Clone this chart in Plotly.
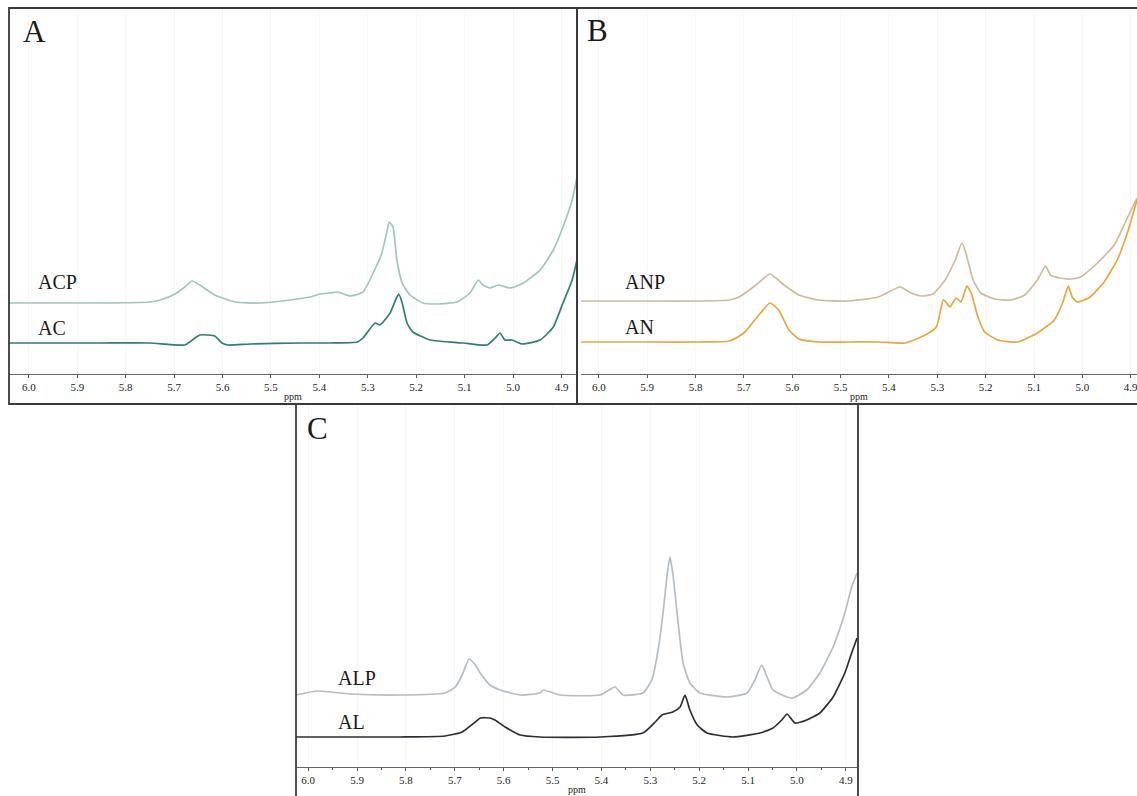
import plotly.graph_objects as go

# ---------------- data (chemical shift in ppm, intensity in a.u.) ----------------
ppm_ticks = [6.0, 5.9, 5.8, 5.7, 5.6, 5.5, 5.4, 5.3, 5.2, 5.1, 5.0, 4.9]
tick_labels = ["6.0", "5.9", "5.8", "5.7", "5.6", "5.5", "5.4", "5.3", "5.2", "5.1", "5.0", "4.9"]

# Panel A
ac_ppm = [6.041, 5.957, 5.853, 5.750, 5.678, 5.657, 5.647, 5.630, 5.616, 5.601, 5.589, 5.543,
          5.440, 5.378, 5.322, 5.310, 5.285, 5.275, 5.254, 5.240, 5.236, 5.229, 5.219, 5.207,
          5.171, 5.103, 5.054, 5.037, 5.027, 5.017, 5.002, 4.981, 4.944, 4.917, 4.897, 4.878, 4.868]
ac_int = [0, 0, 0, 0, -2, 5, 8, 8, 7, 0, -2, -1,
          0, 0, 1, 5, 20, 18, 30, 46, 49, 40, 20, 11,
          3, 0, -2, 5, 10, 3, 3, -1, 3, 16, 40, 63, 83]

acp_ppm = [6.041, 5.853, 5.750, 5.729, 5.698, 5.678, 5.663, 5.647, 5.616, 5.574, 5.523, 5.461,
           5.419, 5.399, 5.378, 5.362, 5.337, 5.310, 5.289, 5.271, 5.260, 5.256, 5.248, 5.240,
           5.229, 5.213, 5.186, 5.157, 5.116, 5.089, 5.072, 5.062, 5.048, 5.031, 5.006, 4.979,
           4.944, 4.917, 4.897, 4.878, 4.868]
acp_int = [0, 0, 1, 3, 9, 16, 22, 18, 8, 1, 0, 3,
           6, 9, 10, 11, 7, 11, 30, 50, 73, 81, 76, 43,
           20, 8, 0, -1, 1, 10, 23, 18, 15, 18, 15, 20,
           33, 53, 76, 103, 126]

# Panel B
an_ppm = [6.037, 5.895, 5.792, 5.730, 5.700, 5.669, 5.646, 5.628, 5.607, 5.586, 5.545, 5.484,
          5.422, 5.366, 5.325, 5.302, 5.288, 5.284, 5.274, 5.261, 5.251, 5.239, 5.230, 5.216,
          5.202, 5.175, 5.134, 5.093, 5.058, 5.041, 5.029, 5.021, 5.010, 4.984, 4.955, 4.928,
          4.907, 4.887]
an_int = [0, 0, 0, 1, 9, 27, 39, 32, 12, 3, 0, 0,
          0, -1, 7, 15, 42, 41, 35, 44, 40, 56, 49, 25,
          10, 2, 0, 9, 22, 39, 56, 45, 40, 45, 60, 82,
          109, 142]

anp_ppm = [6.037, 5.895, 5.792, 5.730, 5.710, 5.675, 5.646, 5.617, 5.586, 5.545, 5.484, 5.422,
           5.377, 5.354, 5.333, 5.309, 5.284, 5.263, 5.249, 5.241, 5.226, 5.210, 5.181, 5.148,
           5.119, 5.093, 5.076, 5.066, 5.047, 5.025, 5.004, 4.969, 4.934, 4.912, 4.887]
anp_int = [0, 0, 0, 1, 4, 16, 27, 16, 6, 1, 0, 4,
           14, 8, 5, 7, 21, 41, 58, 48, 21, 8, 2, 1,
           6, 21, 35, 26, 23, 22, 24, 38, 56, 78, 103]

# Panel C
al_ppm = [6.025, 5.812, 5.720, 5.685, 5.658, 5.648, 5.628, 5.618, 5.597, 5.566, 5.526, 5.403,
          5.315, 5.290, 5.276, 5.254, 5.239, 5.229, 5.219, 5.204, 5.184, 5.131, 5.076, 5.049,
          5.031, 5.020, 5.004, 4.980, 4.953, 4.926, 4.902, 4.888, 4.877]
al_int = [0, 0, 1, 5, 15, 19, 19, 17, 10, 2, 0, 0,
          4, 15, 22, 25, 30, 42, 27, 12, 4, 0, 4, 9,
          17, 23, 14, 17, 24, 40, 64, 84, 99]

alp_ppm = [6.025, 5.980, 5.914, 5.812, 5.720, 5.699, 5.685, 5.671, 5.658, 5.648, 5.628, 5.607,
           5.566, 5.526, 5.519, 5.485, 5.403, 5.372, 5.356, 5.315, 5.297, 5.284, 5.274, 5.266,
           5.260, 5.254, 5.243, 5.233, 5.219, 5.198, 5.143, 5.102, 5.086, 5.072, 5.061, 5.049,
           5.020, 5.008, 4.980, 4.953, 4.926, 4.902, 4.888, 4.877]
alp_int = [0, 4, 1, 0, 2, 8, 20, 36, 30, 22, 10, 5,
           0, 2, 5, 0, 0, 8, 0, 2, 15, 45, 82, 118,
           138, 122, 72, 32, 12, 2, -2, 2, 15, 30, 18, 5,
           -2, -3, 5, 22, 48, 82, 108, 122]

# ---------------- layout helpers ----------------
W, H = 1137, 796
def px(x):
    return x / W
def py(y):
    return 1 - y / H

# vertical stacking offsets of the spectra (layout, not data)
off = {"AC": 31, "ACP": 71, "AN": 32, "ANP": 73, "AL": 30, "ALP": 72}

FONT = "Liberation Serif"

fig = go.Figure()

def add(xs, ys, offset, color, xa, ya, width=1.7):
    fig.add_trace(go.Scatter(
        x=xs, y=[v + offset for v in ys], mode="lines",
        line=dict(color=color, width=width, shape="spline", smoothing=0.5),
        xaxis=xa, yaxis=ya, showlegend=False, hoverinfo="skip"))

add(acp_ppm, acp_int, off["ACP"], "#9dc6c0", "x", "y")
add(ac_ppm, ac_int, off["AC"], "#2f7f74", "x", "y")
add(anp_ppm, anp_int, off["ANP"], "#cdbb9c", "x2", "y2")
add(an_ppm, an_int, off["AN"], "#e3a93c", "x2", "y2")
add(alp_ppm, alp_int, off["ALP"], "#b5bdc4", "x3", "y3")
add(al_ppm, al_int, off["AL"], "#2a2f36", "x3", "y3")

def xaxis_style(domain, rng, minor=False):
    d = dict(
        domain=domain, range=rng, tickmode="array", tickvals=ppm_ticks, ticktext=tick_labels,
        ticks="outside", ticklen=3, tickcolor="#555", tickwidth=1,
        showline=True, linecolor="#666", linewidth=1, mirror=False,
        showgrid=True, gridcolor="#f6f6f6", zeroline=False,
        ticklabeloverflow="allow",
        tickfont=dict(family=FONT, size=11, color="#222"),
        title=dict(text="ppm", font=dict(family=FONT, size=10, color="#222"), standoff=0),
        fixedrange=True)
    if minor:
        d["minor"] = dict(dtick=0.05, tick0=4.9, ticks="outside", ticklen=2, tickcolor="#555", showgrid=False)
    return d

def yaxis_style(domain, rng, anchor):
    return dict(domain=domain, range=rng, visible=False, anchor=anchor, fixedrange=True)

fig.update_layout(
    width=W, height=H, margin=dict(l=0, r=0, t=0, b=0),
    paper_bgcolor="white", plot_bgcolor="white",
    xaxis=dict(**xaxis_style([px(9), px(577)], [6.041, 4.868]), anchor="y"),
    yaxis=yaxis_style([py(374), py(8)], [0, 366], "x"),
    xaxis2=dict(**xaxis_style([px(581), 1.0], [6.037, 4.887]), anchor="y2"),
    yaxis2=yaxis_style([py(374), py(8)], [0, 366], "x2"),
    xaxis3=dict(**xaxis_style([px(296), px(858)], [6.025, 4.875], minor=True), anchor="y3"),
    yaxis3=yaxis_style([py(767), py(404)], [0, 363], "x3"),
)

# panel frames
frames = [(9, 8, 577, 404), (577, 8, 1142, 404), (296, 404, 858, 800)]
for x0, y0, x1, y1 in frames:
    fig.add_shape(type="rect", xref="paper", yref="paper",
                  x0=px(x0), x1=px(x1), y0=py(y1), y1=py(y0),
                  line=dict(color="#3a3a3a", width=1.8), fillcolor="rgba(0,0,0,0)", layer="above")

# labels
labels = [("A", 21, 32, 31), ("B", 585, 31, 31), ("C", 305, 428, 31),
          ("ACP", 36, 282, 20), ("AC", 36, 328, 20),
          ("ANP", 623, 282, 20), ("AN", 623, 327, 20),
          ("ALP", 336, 678, 20), ("AL", 336, 722, 20)]
for text, x, y, size in labels:
    fig.add_annotation(text=text, xref="paper", yref="paper", x=px(x), y=py(y),
                       xanchor="left", yanchor="middle", showarrow=False,
                       font=dict(family=FONT, size=size, color="#1a1a1a"))

fig.write_html("out.html")
